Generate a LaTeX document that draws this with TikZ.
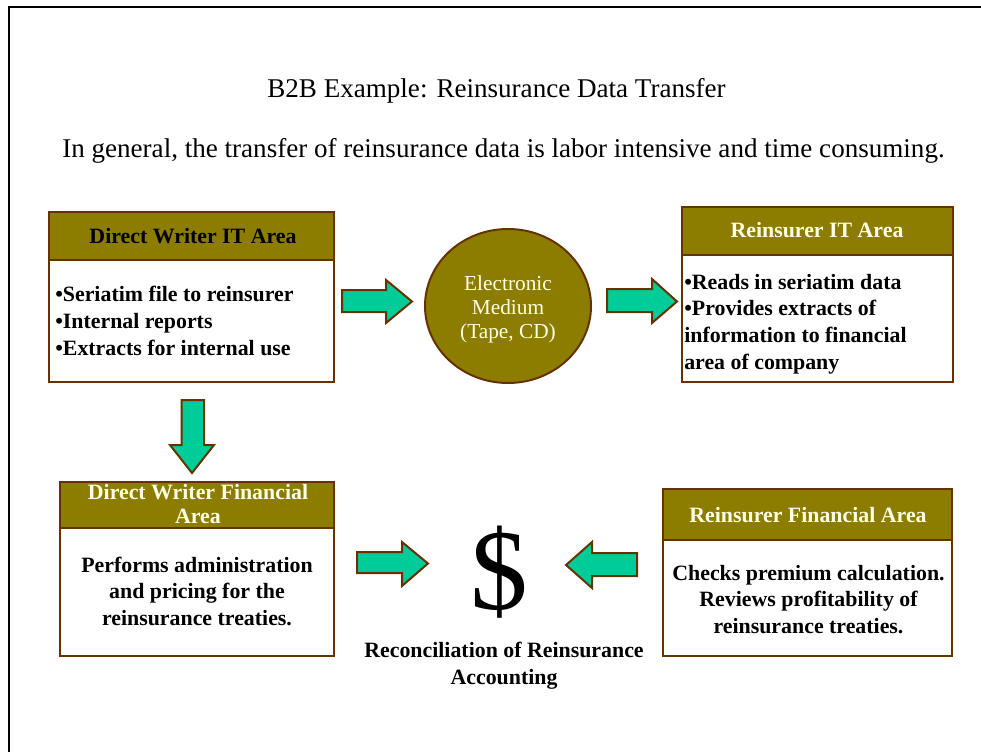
\documentclass[tikz,border=0pt]{standalone}
\usepackage{fontspec}
\setmainfont{Liberation Serif}
\usetikzlibrary{shapes.geometric}
\definecolor{olivehdr}{RGB}{140,124,0}
\definecolor{brownline}{RGB}{102,51,0}
\definecolor{arrowfill}{RGB}{0,204,153}
\definecolor{creamtext}{RGB}{255,255,230}
\begin{document}
\begin{tikzpicture}[x=0.75pt,y=-0.75pt,
  box/.style={draw=brownline, line width=1.5pt, fill=white, rectangle, inner sep=0pt},
  hdr/.style={draw=brownline, line width=1.5pt, fill=olivehdr, rectangle, inner sep=0pt},
  hdrtext/.style={font=\fontsize{16.4}{18}\selectfont\bfseries, inner sep=0pt, align=center},
  bodytext/.style={font=\fontsize{16.4}{20}\selectfont\bfseries, inner sep=0pt},
  blockarrow/.style={draw=brownline, line width=1.5pt, fill=arrowfill, line join=miter},
  titletext/.style={font=\fontsize{20.3}{24}\selectfont, inner sep=0pt}
]
\useasboundingbox (0,0) rectangle (981,752);
\fill[white] (0,0) rectangle (981,752);
% frame
\draw[line width=1.5pt] (9,760) -- (9,7) -- (990,7);

% titles
\node[titletext, anchor=base] (title) at (496.5,98) {B2B Example: Reinsurance Data Transfer};
\node[titletext, anchor=base] (subtitle) at (503.5,158) {In general, the transfer of reinsurance data is labor intensive and time consuming.};

% Box 1: Direct Writer IT Area
\node[box, minimum width=213.5pt, minimum height=127.5pt] (dwit) at (191.7,297) {};
\node[hdr, minimum width=213.5pt, minimum height=36pt] (dwith) at (191.7,236) {};
\node[hdrtext, text=black, anchor=base] (dwitt) at (193,244) {Direct Writer IT Area};
\node[bodytext, align=left, anchor=base west] (dwitb) at (55,355) {•Seriatim file to reinsurer\\•Internal reports\\•Extracts for internal use};

% Box 2: Reinsurer IT Area
\node[box, minimum width=203.25pt, minimum height=131.25pt] (rit) at (817.2,294.5) {};
\node[hdr, minimum width=203.25pt, minimum height=36pt] (rith) at (817.2,231) {};
\node[hdrtext, text=creamtext, anchor=base] (ritt) at (817,238) {Reinsurer IT Area};
\node[bodytext, align=left, anchor=base west] (ritb) at (684,369) {•Reads in seriatim data\\•Provides extracts of\\information to financial\\area of company};

% Box 3: Direct Writer Financial Area
\node[box, minimum width=205.5pt, minimum height=130.7pt] (dwf) at (197,568.85) {};
\node[hdr, minimum width=205.5pt, minimum height=34.5pt] (dwfh) at (197,504.7) {};
\node[hdrtext, text=creamtext, anchor=base] (dwft) at (198,523.3) {Direct Writer Financial\\Area};
\node[bodytext, align=center, anchor=base] (dwfb) at (197,625.5) {Performs administration\\and pricing for the\\reinsurance treaties.};

% Box 4: Reinsurer Financial Area
\node[box, minimum width=216.75pt, minimum height=125.25pt] (rf) at (807.5,572.5) {};
\node[hdr, minimum width=216.75pt, minimum height=38.25pt] (rfh) at (807.5,514.5) {};
\node[hdrtext, text=creamtext, anchor=base] (rft) at (808,522) {Reinsurer Financial Area};
\node[bodytext, align=center, anchor=base] (rfb) at (808.5,633.5) {Checks premium calculation.\\Reviews profitability of\\reinsurance treaties.};

% Electronic medium
\node[ellipse, draw=brownline, line width=1.5pt, fill=olivehdr, minimum width=124.5pt, minimum height=115.5pt, inner sep=0pt] (em) at (508,306) {};
\node[font=\fontsize{16}{18}\selectfont, text=creamtext, align=center, inner sep=0pt, anchor=base] (emt) at (508,338.5) {Electronic\\Medium\\(Tape, CD)};

% Dollar
\node[font=\fontsize{86.5}{90}\selectfont, inner sep=0pt] (dollar) at (499.5,572) {\$};
\node[bodytext, align=center, anchor=base] (recon) at (504,684) {Reconciliation of Reinsurance\\Accounting};

% block arrows
\draw[blockarrow] (342,290) -- (386,290) -- (386,280) -- (412,301.5) -- (386,323) -- (386,312) -- (342,312) -- cycle;
\draw[blockarrow] (607,289) -- (652,289) -- (652,279) -- (677,301.5) -- (652,323) -- (652,312) -- (607,312) -- cycle;
\draw[blockarrow] (181.7,400) -- (204,400) -- (204,445) -- (214,445) -- (192,473) -- (170,445) -- (181.7,445) -- cycle;
\draw[blockarrow] (357,552) -- (402,552) -- (402,542) -- (428,563.5) -- (402,586) -- (402,573) -- (357,573) -- cycle;
\draw[blockarrow] (637,553) -- (592,553) -- (592,542) -- (566,565) -- (592,588) -- (592,576) -- (637,576) -- cycle;
\end{tikzpicture}
\end{document}
